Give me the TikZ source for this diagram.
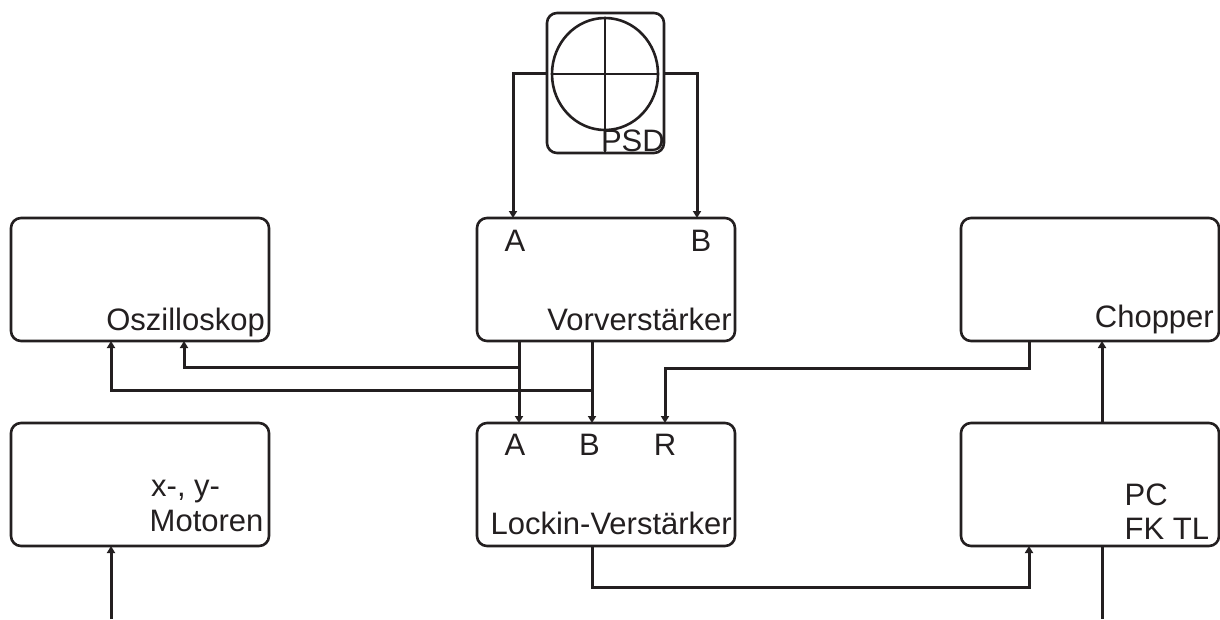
\documentclass[tikz,border=0pt]{standalone}
\usepackage{fontspec}
\setmainfont{Liberation Sans}
\usetikzlibrary{arrows.meta,shapes.geometric}
\tikzset{
  x=1pt,y=-1pt,
  box/.style={draw=ink,line width=2.6pt,rounded corners=10pt},
  conn/.style={draw=ink,line width=3pt},
  arr/.style={conn,-{Triangle[length=7pt,width=8pt]}},
  thin conn/.style={draw=ink,line width=2.6pt},
  lab/.style={font=\fontsize{31}{34}\selectfont,text=ink,inner sep=0pt,anchor=base east,align=left},
  port/.style={font=\fontsize{31}{34}\selectfont,text=ink,inner sep=0pt,anchor=base},
}
\definecolor{ink}{RGB}{35,31,32}
\begin{document}
\begin{tikzpicture}
\useasboundingbox (0,0) rectangle (1220,619);
% boxes
\draw[box] (547,13) rectangle (664,153);
\draw[box] (11,218) rectangle (269,341);
\draw[box] (477,218) rectangle (735,341);
\draw[box] (961,218) rectangle (1219,341);
\draw[box] (11,423) rectangle (269,546);
\draw[box] (477,423) rectangle (735,546);
\draw[box] (961,423) rectangle (1219,546);
% PSD
\node[draw=ink,line width=2.6pt,ellipse,minimum width=106pt,minimum height=112pt,inner sep=0pt] (psdc) at (605,74) {};
\coordinate (psdb) at (605,153);
\draw[thin conn] (psdc.north) -- (psdb);
\draw[thin conn] (psdc.west) -- (psdc.east);
\node[lab] (psdt) at (665,151.5) {PSD};
% ports
\coordinate (psdL) at (547,73);
\coordinate (psdR) at (664,73);
\coordinate (vA) at (513,218);
\coordinate (vB) at (697,218);
\coordinate (v1) at (519,341);
\coordinate (v2) at (592,341);
\coordinate (l1) at (519,423);
\coordinate (l2) at (592,423);
\coordinate (lR) at (665,423);
\coordinate (j1) at (519,367);
\coordinate (j2) at (592,390);
\coordinate (o1) at (184,341);
\coordinate (o2) at (111,341);
\coordinate (ch) at (1029,341);
\coordinate (chin) at (1102,341);
\coordinate (pctop) at (1102,423);
\coordinate (lb) at (592,546);
\coordinate (pcin) at (1029,546);
\coordinate (pcb) at (1102,546);
\coordinate (pcend) at (1102,619);
\coordinate (mend) at (111,619);
\coordinate (m) at (111,546);
% connectors
\draw[arr] (psdL) -- (vA |- psdL) -- (vA);
\draw[arr] (psdR) -- (vB |- psdR) -- (vB);
\draw[arr] (v1) -- (l1);
\draw[arr] (v2) -- (l2);
\draw[arr] (j1) -- (o1 |- j1) -- (o1);
\draw[arr] (j2) -- (o2 |- j2) -- (o2);
\draw[arr] (ch) -- (0,368 -| ch) -- (lR |- 0,368) -- (lR);
\draw[arr] (pctop) -- (chin);
\draw[arr] (lb) -- (0,587 -| lb) -- (pcin |- 0,587) -- (pcin);
\draw[conn] (pcb) -- (pcend);
\draw[arr] (mend) -- (m);
% labels
\node[lab] (osz) at (265,330) {Oszilloskop};
\node[lab] (vor) at (732,330) {Vorverstärker};
\node[lab] (cho) at (1214,327) {Chopper};
\node[port] (va) at (515,251) {A};
\node[port] (vb) at (701,251) {B};
\node[port] (la) at (515,455) {A};
\node[port] (lb2) at (589.5,455) {B};
\node[port] (lr) at (665,455) {R};
\node[lab] (lock) at (732,534) {Lockin-Verstärker};
\node[port,anchor=base west] (xy) at (151,496) {x-, y-};
\node[port,anchor=base west] (mot) at (149.5,531) {Motoren};
\node[port,anchor=base west] (pc) at (1124.5,505) {PC};
\node[port,anchor=base west] (fk) at (1124.5,539) {FK TL};
\end{tikzpicture}
\end{document}
